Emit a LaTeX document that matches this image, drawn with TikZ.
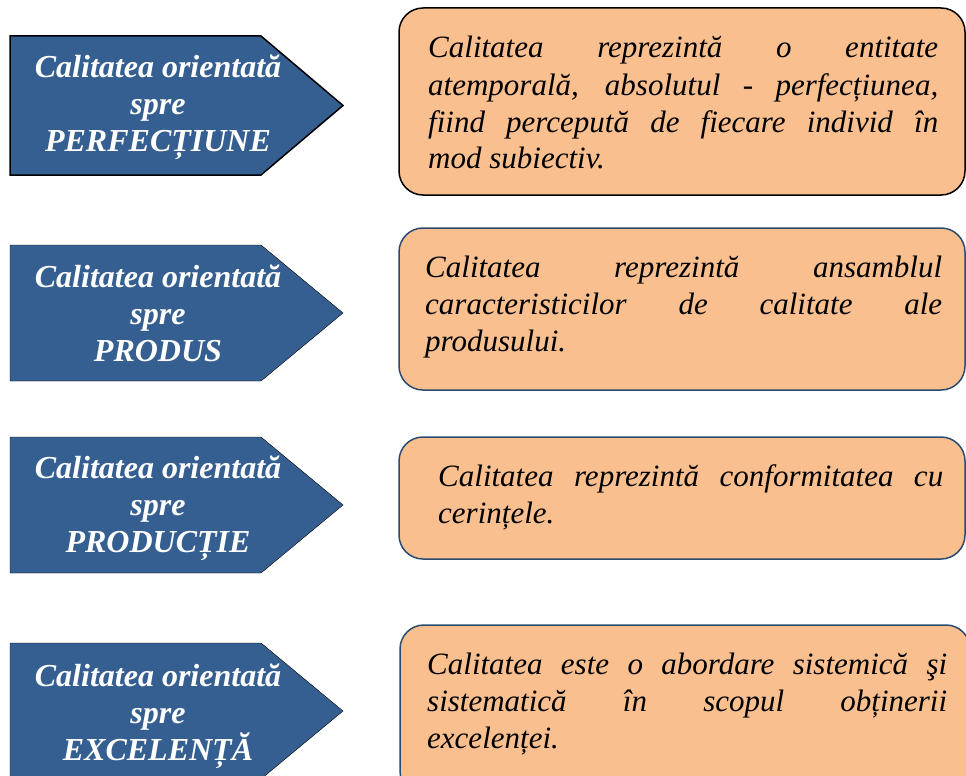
\documentclass[tikz,border=0pt]{standalone}
\usepackage{fontspec}
\setmainfont{Liberation Serif}

\definecolor{tagblue}{HTML}{365F91}
\definecolor{notepeach}{HTML}{F9BF8F}
\definecolor{noteedge}{HTML}{2B4A70}

\tikzset{
  tag/.style={fill=tagblue},
  tagtext/.style={text=white, font=\fontsize{32}{37}\selectfont\bfseries\itshape,
                  align=center, inner sep=0pt},
  notebox/.style={rectangle, rounded corners=24pt, fill=notepeach, draw=noteedge,
                  line width=1.5pt, minimum width=566pt},
  notetext/.style={font=\fontsize{31}{37}\selectfont\itshape, align=justify,
                   inner sep=0pt, anchor=base west}
}

\begin{document}
\begin{tikzpicture}[x=1pt,y=-1pt]
\useasboundingbox (0,0) rectangle (966,776);
\clip (0,0) rectangle (966,776);

% Perfectiune
\draw[tag, draw=black, line width=1.5pt] (10,36) -- (261,36) -- (343,105.5) -- (261,175) -- (10,175) -- cycle;
\node[tagtext] (tagperf) at (158,107) {Calitatea orientată\\spre\\PERFECȚIUNE};
\node[notebox, draw=black, minimum height=187pt] (boxperf) at (682,101.5) {};
\node[notetext, text width=510pt] (noteperf) at (428,58) {Calitatea reprezintă o entitate\linebreak
  atemporală, absolutul - perfecțiunea,\linebreak fiind percepută de fiecare individ în\linebreak mod subiectiv.};

% Produs
\draw[tag] (10,245) -- (261,245) -- (343,313) -- (261,381) -- (10,381) -- cycle;
\node[tagtext] (tagprod) at (158,313) {Calitatea orientată\\spre\\PRODUS};
\node[notebox, minimum height=162pt] (boxprod) at (682,309) {};
\node[notetext, text width=517pt] (noteprod) at (425,277) {Calitatea reprezintă ansamblul\linebreak
  caracteristicilor de calitate ale\linebreak produsului.};

% Productie
\draw[tag] (10,437) -- (261,437) -- (343,505) -- (261,573) -- (10,573) -- cycle;
\node[tagtext] (tagproc) at (158,508) {Calitatea orientată\\spre\\PRODUCȚIE};
\node[notebox, minimum height=122pt] (boxproc) at (682,498) {};
\node[notetext, text width=505pt] (noteproc) at (438,486) {Calitatea reprezintă conformitatea cu\linebreak
  cerințele.};

% Excelenta
\draw[tag] (10,643) -- (261,643) -- (343,711) -- (261,779) -- (10,779) -- cycle;
\node[tagtext] (tagexc) at (158,716) {Calitatea orientată\\spre\\EXCELENȚĂ};
\node[notebox, minimum width=570pt, minimum height=170pt] (boxexc) at (685,710) {};
\node[notetext, text width=520pt] (noteexc) at (427,674) {Calitatea este o abordare sistemică şi\linebreak
  sistematică în scopul obținerii\linebreak excelenței.};

\end{tikzpicture}
\end{document}
